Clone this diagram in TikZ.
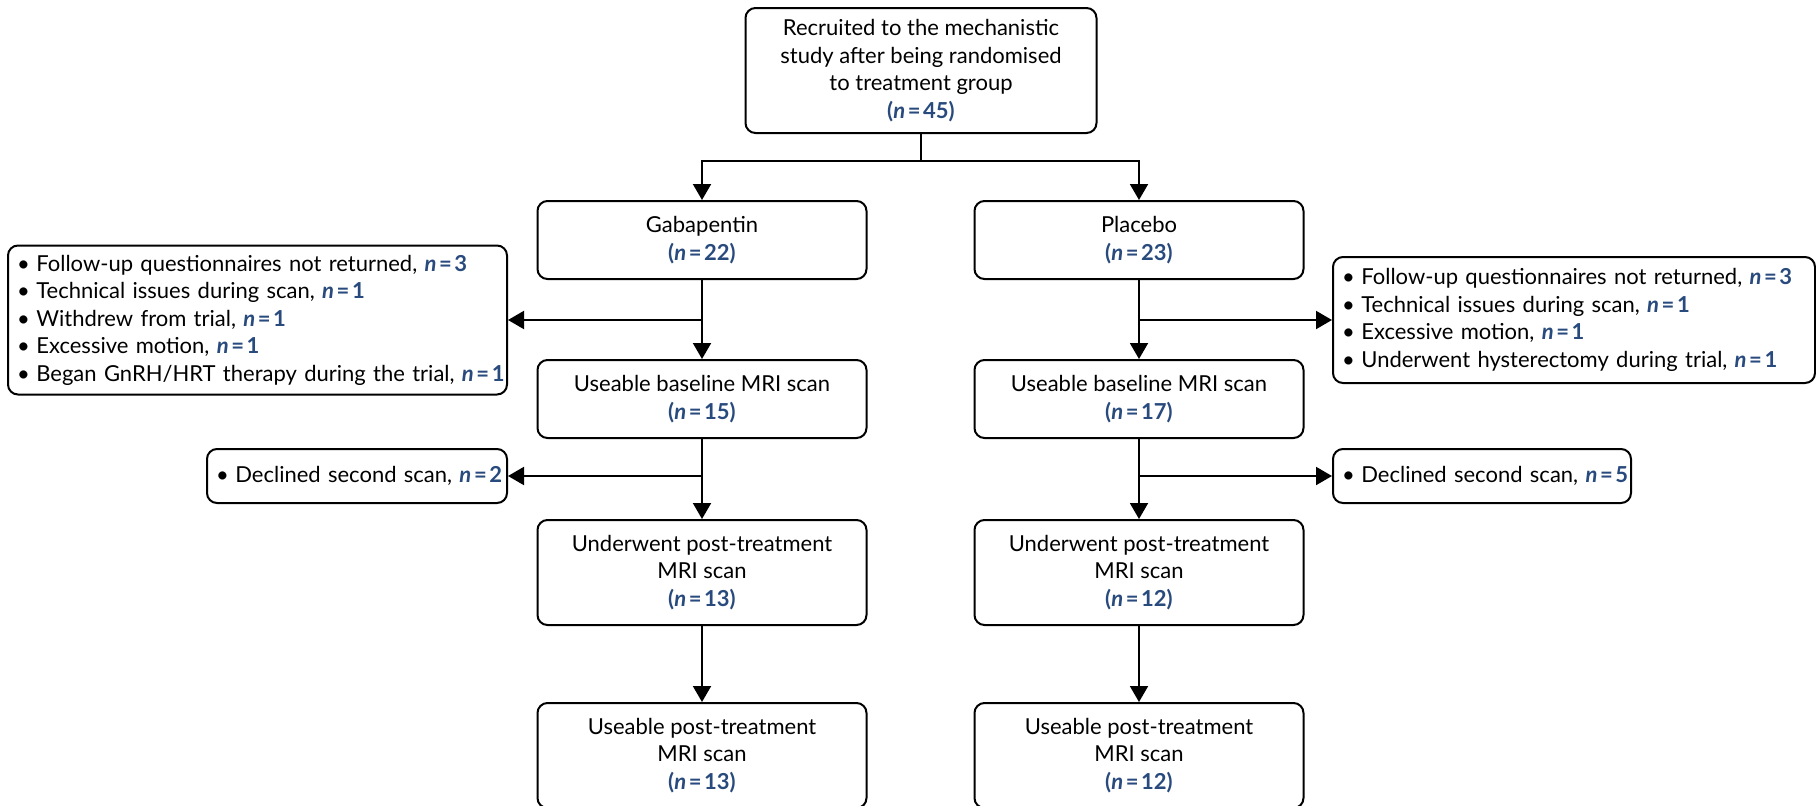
\documentclass[tikz,border=0pt]{standalone}
\usepackage{fontspec}
\setmainfont{Lato}
\usetikzlibrary{arrows.meta}
\definecolor{nblue}{RGB}{40,74,125}
\newcommand{\nv}[1]{\textcolor{nblue}{\textbf{\textit{n}\hspace{0.12em}=\hspace{0.12em}#1}}}
\newcommand{\pn}[1]{\textcolor{nblue}{\textbf{(\textit{n}\hspace{0.12em}=\hspace{0.12em}#1)}}}
\newcommand{\bl}[1]{\mbox{•\hspace{0.3em}#1}}
\begin{document}
\begin{tikzpicture}[x=1pt,y=-1pt,
  font=\fontsize{22}{27.5}\selectfont,
  box/.style={draw,line width=2pt,rounded corners=10pt,align=center,inner sep=4pt},
  mainbox/.style={box,minimum width=329pt},
  sidebox/.style={box,align=left,inner xsep=9pt,inner ysep=6pt},
  conn/.style={line width=2pt},
  arr/.style={conn,-{Triangle[width=18pt,length=16pt]}}]
\useasboundingbox (0,0) rectangle (1816,806);
\node[box,minimum width=351pt,minimum height=125pt] (top) at (921,70.5)
  {Recruited to the mechanistic\\study after being randomised\\to treatment group\\\pn{45}};
\node[mainbox,minimum height=78pt] (gab) at (702,240) {Gabapentin\\\pn{22}};
\node[mainbox,minimum height=78pt] (plac) at (1139,240) {Placebo\\\pn{23}};
\node[mainbox,minimum height=78pt] (gbase) at (702,399) {Useable baseline MRI scan\\\pn{15}};
\node[mainbox,minimum height=78pt] (pbase) at (1139,399) {Useable baseline MRI scan\\\pn{17}};
\node[mainbox,minimum height=105pt] (gunder) at (702,572.5) {Underwent post-treatment\\MRI scan\\\pn{13}};
\node[mainbox,minimum height=105pt] (punder) at (1139,572.5) {Underwent post-treatment\\MRI scan\\\pn{12}};
\node[mainbox,minimum height=105pt] (gpost) at (702,755.5) {Useable post-treatment\\MRI scan\\\pn{13}};
\node[mainbox,minimum height=105pt] (ppost) at (1139,755.5) {Useable post-treatment\\MRI scan\\\pn{12}};
\node[sidebox,text width=481pt,minimum height=149pt] (lexcl) at (257.5,320)
  {\bl{Follow-up questionnaires not returned, \nv{3}}\\
   \bl{Technical issues during scan, \nv{1}}\\
   \bl{Withdrew from trial, \nv{1}}\\
   \bl{Excessive motion, \nv{1}}\\
   \bl{Began GnRH/HRT therapy during the trial, \nv{1}}};
\node[sidebox,text width=282pt,minimum height=54pt] (ldecl) at (357,476)
  {\bl{Declined second scan, \nv{2}}};
\node[sidebox,text width=464pt,minimum height=126pt] (rexcl) at (1574,320)
  {\bl{Follow-up questionnaires not returned, \nv{3}}\\
   \bl{Technical issues during scan, \nv{1}}\\
   \bl{Excessive motion, \nv{1}}\\
   \bl{Underwent hysterectomy during trial, \nv{1}}};
\node[sidebox,text width=280pt,minimum height=54pt] (rdecl) at (1482,476)
  {\bl{Declined second scan, \nv{5}}};
\coordinate (split) at ([yshift=-27pt]top.south);
\draw[conn] (top.south) -- (split);
\draw[arr] (split) -| (gab.north);
\draw[arr] (split) -| (plac.north);
\draw[arr] (gab.south) -- (gbase.north);
\draw[arr] (plac.south) -- (pbase.north);
\draw[arr] (gbase.south) -- (gunder.north);
\draw[arr] (pbase.south) -- (punder.north);
\draw[arr] (gunder.south) -- (gpost.north);
\draw[arr] (punder.south) -- (ppost.north);
\draw[arr] (gab.south |- lexcl.east) -- (lexcl.east);
\draw[arr] (plac.south |- rexcl.west) -- (rexcl.west);
\draw[arr] (gbase.south |- ldecl.east) -- (ldecl.east);
\draw[arr] (pbase.south |- rdecl.west) -- (rdecl.west);
\end{tikzpicture}
\end{document}
